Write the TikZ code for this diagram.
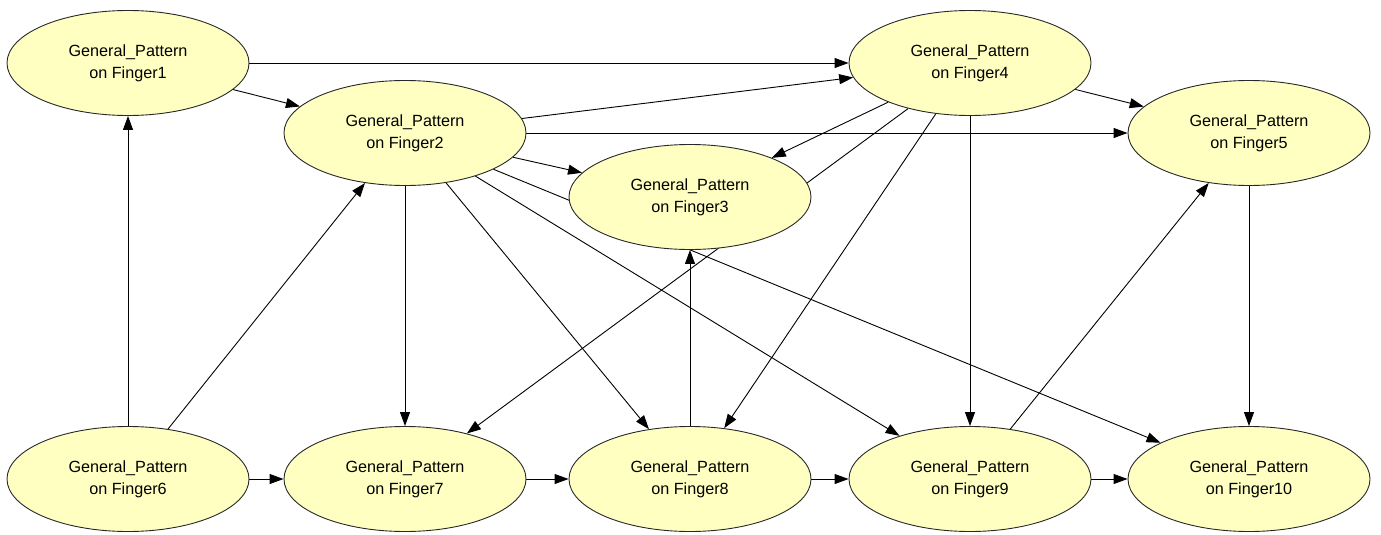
\documentclass[tikz,border=0pt]{standalone}
\usepackage{fontspec}
\setmainfont{Liberation Sans}
\usetikzlibrary{shapes.geometric,arrows.meta,backgrounds}
\definecolor{nodefill}{RGB}{255,255,194}
\definecolor{nodeline}{RGB}{40,40,40}
\begin{document}
\begin{tikzpicture}[x=1pt,y=-1pt,
  finger/.style={ellipse,draw=nodeline,line width=0.9pt,fill=nodefill,
    minimum width=242pt,minimum height=105pt,inner sep=0pt,align=center,
    font=\fontsize{16.2}{22}\selectfont},
  link/.style={draw=black,line width=0.9pt,-{Triangle[length=14pt,width=10pt]}}]
\useasboundingbox (0,0) rectangle (1381,535);

% pattern nodes
\node[finger] (f1)  at (128,63)   {General\_Pattern\\on Finger1};
\node[finger] (f2)  at (405,133)  {General\_Pattern\\on Finger2};
\node[finger] (f3)  at (690,197)  {General\_Pattern\\on Finger3};
\node[finger] (f4)  at (970,63)   {General\_Pattern\\on Finger4};
\node[finger] (f5)  at (1249,133) {General\_Pattern\\on Finger5};
\node[finger] (f6)  at (128,479)  {General\_Pattern\\on Finger6};
\node[finger] (f7)  at (405,479)  {General\_Pattern\\on Finger7};
\node[finger] (f8)  at (690,479)  {General\_Pattern\\on Finger8};
\node[finger] (f9)  at (970,479)  {General\_Pattern\\on Finger9};
\node[finger] (f10) at (1249,479) {General\_Pattern\\on Finger10};

% dependencies, kept behind the nodes
\begin{scope}[on background layer]
  \draw[link] (f1) -- (f4);
  \draw[link] (f1) -- (f2);
  \draw[link] (f6) -- (f1);
  \draw[link] (f6) -- (f2);
  \draw[link] (f6) -- (f7);
  \draw[link] (f2) -- (f4);
  \draw[link] (f2) -- (f5);
  \draw[link] (f2) -- (f3);
  \draw[link] (f2) -- (f7);
  \draw[link] (f2) -- (f8);
  \draw[link] (f2) -- (f9);
  \draw[link] (f2) -- (f10);
  \draw[link] (f4) -- (f3);
  \draw[link] (f4) -- (f7);
  \draw[link] (f4) -- (f8);
  \draw[link] (f4) -- (f9);
  \draw[link] (f4) -- (f5);
  \draw[link] (f5) -- (f10);
  \draw[link] (f9) -- (f5);
  \draw[link] (f8) -- (f3);
  \draw[link] (f7) -- (f8);
  \draw[link] (f8) -- (f9);
  \draw[link] (f9) -- (f10);
\end{scope}
\end{tikzpicture}
\end{document}
